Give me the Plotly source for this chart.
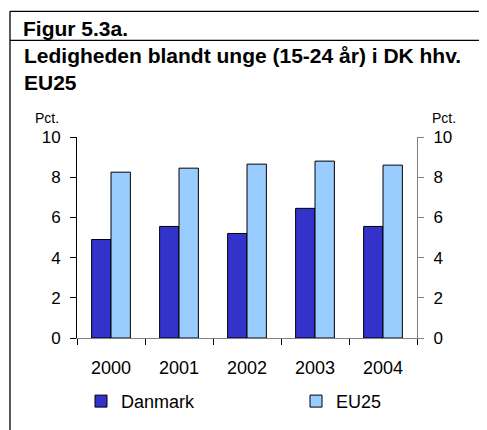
import plotly.graph_objects as go

years = ["2000", "2001", "2002", "2003", "2004"]
danmark = [4.9, 5.55, 5.2, 6.45, 5.55]
eu25 = [8.25, 8.45, 8.65, 8.8, 8.6]
y_ticks = [0, 2, 4, 6, 8, 10]

W, H = 487, 430
OFF = 8  # page body margin compensation
PL, PR, PT, PB = 77, 417, 137, 337.7  # target plot box in window pixels
ML, MT = PL - OFF, PT - OFF
MR, MB = W - (PR - OFF), H - (PB - OFF)
PW, PH = W - ML - MR, H - MT - MB


def xp(px):
    return (px - OFF - ML) / PW


def yp(py):
    return (H - MB - (py - OFF)) / PH


FONT = "Liberation Sans, Arial, sans-serif"

fig = go.Figure()
fig.add_trace(go.Bar(x=years, y=danmark, name="Danmark", legend="legend",
                     marker=dict(color="#3333CC", line=dict(color="#000000", width=1))))
fig.add_trace(go.Bar(x=years, y=eu25, name="EU25", legend="legend2",
                     marker=dict(color="#99CCFF", line=dict(color="#000000", width=1))))
# carrier for the right-hand axis (invisible)
fig.add_trace(go.Scatter(x=years, y=eu25, yaxis="y2", mode="markers",
                         marker=dict(opacity=0), showlegend=False, hoverinfo="skip"))

leg_common = dict(orientation="h", xanchor="left", yanchor="middle", y=yp(401),
                  font=dict(size=18), bgcolor="rgba(0,0,0,0)")

fig.update_layout(
    width=W, height=H,
    margin=dict(l=ML, r=MR, t=MT, b=MB, autoexpand=False),
    paper_bgcolor="white", plot_bgcolor="white",
    barmode="group", bargap=0.43, bargroupgap=0,
    font=dict(family=FONT, size=17, color="#000000"),
    showlegend=True,
    legend=dict(x=xp(81), **leg_common),
    legend2=dict(x=xp(296), **leg_common),
    xaxis=dict(type="category", range=[-0.5, 4.5], showline=True, linecolor="#808080",
               linewidth=1, ticks="outside", tickson="boundaries", ticklen=6,
               tickcolor="#000000", showgrid=False, zeroline=False,
               ticklabelstandoff=13, tickfont=dict(size=18)),
    yaxis=dict(range=[0, 10], tickvals=y_ticks, showline=True, linecolor="#000000",
               linewidth=1, ticks="outside", ticklen=6, tickcolor="#000000",
               showgrid=False, zeroline=False, ticklabelstandoff=6,
               tickfont=dict(size=17)),
    yaxis2=dict(range=[0, 10], tickvals=y_ticks, overlaying="y", side="right",
                anchor="x", showline=True, linecolor="#808080", linewidth=1,
                ticks="outside", ticklen=6, tickcolor="#808080", showgrid=False,
                zeroline=False, ticklabelstandoff=6, tickfont=dict(size=17)),
)

# frame lines
line_style = dict(color="#000000", width=1.3)
fig.add_shape(type="line", xref="paper", yref="paper", x0=xp(10), x1=xp(10),
              y0=yp(11.5), y1=yp(445), line=line_style)
fig.add_shape(type="line", xref="paper", yref="paper", x0=xp(10), x1=xp(500),
              y0=yp(11.5), y1=yp(11.5), line=line_style)
fig.add_shape(type="line", xref="paper", yref="paper", x0=xp(10), x1=xp(500),
              y0=yp(40.5), y1=yp(40.5), line=line_style)

# titles
fig.add_annotation(text="<b>Figur 5.3a.</b>", xref="paper", yref="paper",
                   x=xp(21), y=yp(29), xanchor="left", yanchor="middle",
                   showarrow=False, font=dict(size=21))
fig.add_annotation(text="<b>Ledigheden blandt unge (15-24 år) i DK hhv.<br>EU25</b>",
                   xref="paper", yref="paper", x=xp(22), y=yp(69),
                   xanchor="left", yanchor="middle", align="left",
                   showarrow=False, font=dict(size=21))

# unit labels
fig.add_annotation(text="Pct.", xref="paper", yref="paper", x=xp(47), y=yp(118),
                   xanchor="center", yanchor="middle", showarrow=False,
                   font=dict(size=14))
fig.add_annotation(text="Pct.", xref="paper", yref="paper", x=xp(444), y=yp(118),
                   xanchor="center", yanchor="middle", showarrow=False,
                   font=dict(size=14))

fig.write_html("out.html")
